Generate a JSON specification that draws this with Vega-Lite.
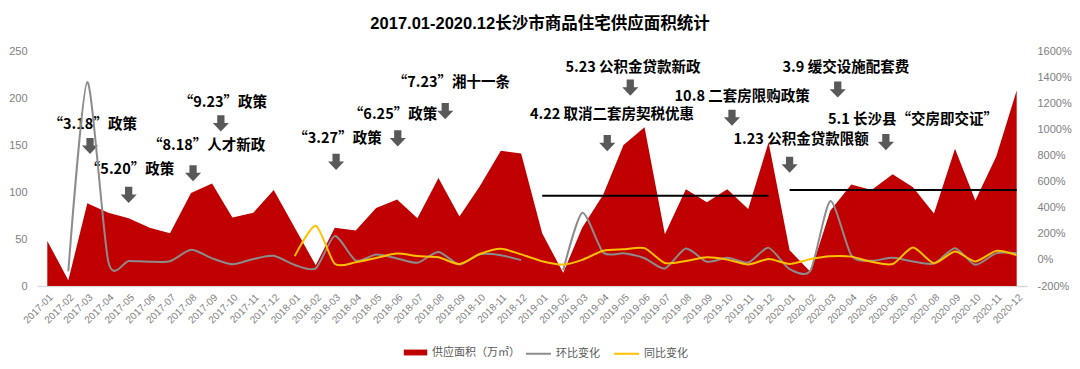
{
  "$schema": "https://vega.github.io/schema/vega-lite/v6.json",
  "width": 990,
  "height": 235,
  "autosize": {"type": "none"},
  "padding": {"left": 37, "top": 51, "right": 53, "bottom": 83},
  "background": "white",
  "title": {
    "text": "2017.01-2020.12长沙市商品住宅供应面积统计",
    "fontSize": 16.5,
    "fontWeight": "bold",
    "font": "Liberation Sans, Noto Sans CJK SC",
    "color": "#000000",
    "offset": 13,
    "dx": 8
  },
  "config": {
    "view": {"stroke": null},
    "axis": {"labelFont": "Liberation Sans", "labelColor": "#808080", "grid": false, "ticks": false},
    "legend": {"labelFont": "Noto Sans CJK SC", "labelFontSize": 11, "labelColor": "#595959", "padding": 0}
  },
  "datasets": {
    "main": [
      {"month": "2017-01-01", "area": 48, "mom": null, "yoy": null},
      {"month": "2017-02-01", "area": 6, "mom": -88, "yoy": null},
      {"month": "2017-03-01", "area": 88, "mom": 1363, "yoy": null},
      {"month": "2017-04-01", "area": 78, "mom": -15, "yoy": null},
      {"month": "2017-05-01", "area": 72, "mom": -8, "yoy": null},
      {"month": "2017-06-01", "area": 62, "mom": -14, "yoy": null},
      {"month": "2017-07-01", "area": 56, "mom": -10, "yoy": null},
      {"month": "2017-08-01", "area": 99, "mom": 77, "yoy": null},
      {"month": "2017-09-01", "area": 109, "mom": 12, "yoy": null},
      {"month": "2017-10-01", "area": 73, "mom": -33, "yoy": null},
      {"month": "2017-11-01", "area": 78, "mom": 7, "yoy": null},
      {"month": "2017-12-01", "area": 102, "mom": 31, "yoy": null},
      {"month": "2018-01-01", "area": 62, "mom": -39, "yoy": 29},
      {"month": "2018-02-01", "area": 22, "mom": -65, "yoy": 262},
      {"month": "2018-03-01", "area": 62, "mom": 182, "yoy": -30},
      {"month": "2018-04-01", "area": 59, "mom": -5, "yoy": -18},
      {"month": "2018-05-01", "area": 83, "mom": 41, "yoy": 15},
      {"month": "2018-06-01", "area": 92, "mom": 11, "yoy": 48},
      {"month": "2018-07-01", "area": 72, "mom": -22, "yoy": 29},
      {"month": "2018-08-01", "area": 115, "mom": 60, "yoy": 20},
      {"month": "2018-09-01", "area": 74, "mom": -36, "yoy": -32},
      {"month": "2018-10-01", "area": 106, "mom": 43, "yoy": 45},
      {"month": "2018-11-01", "area": 144, "mom": 36, "yoy": 85},
      {"month": "2018-12-01", "area": 141, "mom": -2, "yoy": 42},
      {"month": "2019-01-01", "area": 56, "mom": null, "yoy": -10},
      {"month": "2019-02-01", "area": 14, "mom": -80, "yoy": -36},
      {"month": "2019-03-01", "area": 62, "mom": 360, "yoy": 0},
      {"month": "2019-04-01", "area": 97, "mom": 56, "yoy": 70},
      {"month": "2019-05-01", "area": 150, "mom": 50, "yoy": 81},
      {"month": "2019-06-01", "area": 169, "mom": 13, "yoy": 90},
      {"month": "2019-07-01", "area": 55, "mom": -66, "yoy": -24},
      {"month": "2019-08-01", "area": 103, "mom": 87, "yoy": -8},
      {"month": "2019-09-01", "area": 89, "mom": -14, "yoy": 20},
      {"month": "2019-10-01", "area": 103, "mom": 16, "yoy": 2},
      {"month": "2019-11-01", "area": 82, "mom": -20, "yoy": -35},
      {"month": "2019-12-01", "area": 153, "mom": 92, "yoy": 6},
      {"month": "2020-01-01", "area": 38, "mom": -70, "yoy": -31},
      {"month": "2020-02-01", "area": 15, "mom": -80, "yoy": 6},
      {"month": "2020-03-01", "area": 80, "mom": 450, "yoy": 27},
      {"month": "2020-04-01", "area": 108, "mom": 35, "yoy": 25},
      {"month": "2020-05-01", "area": 102, "mom": -6, "yoy": -15},
      {"month": "2020-06-01", "area": 119, "mom": 17, "yoy": -32},
      {"month": "2020-07-01", "area": 105, "mom": -12, "yoy": 95},
      {"month": "2020-08-01", "area": 77, "mom": -28, "yoy": -25},
      {"month": "2020-09-01", "area": 146, "mom": 90, "yoy": 64},
      {"month": "2020-10-01", "area": 91, "mom": -38, "yoy": -12},
      {"month": "2020-11-01", "area": 138, "mom": 52, "yoy": 69},
      {"month": "2020-12-01", "area": 208, "mom": 51, "yoy": 37}
    ],
    "avg": [
      {"start": "2019-01-01", "end": "2019-12-01", "avg": 96},
      {"start": "2020-01-01", "end": "2020-12-01", "avg": 102}
    ],
    "ann": [
      {"label": "“3.18”政策", "date": "2017-03-09", "v": 171},
      {"label": "“5.20”政策", "date": "2017-05-03", "v": 123},
      {"label": "“9.23”政策", "date": "2017-09-17", "v": 195},
      {"label": "“8.18”人才新政", "date": "2017-08-24", "v": 149},
      {"label": "“3.27”政策", "date": "2018-03-05", "v": 156},
      {"label": "“6.25”政策", "date": "2018-05-26", "v": 182},
      {"label": "“7.23”湘十一条", "date": "2018-08-20", "v": 216},
      {"label": "4.22 取消二套房契税优惠", "date": "2019-04-14", "v": 182},
      {"label": "5.23 公积金贷款新政", "date": "2019-05-15", "v": 232},
      {"label": "10.8 二套房限购政策", "date": "2019-10-23", "v": 201},
      {"label": "1.23 公积金贷款限额", "date": "2020-01-18", "v": 155},
      {"label": "3.9 缓交设施配套费", "date": "2020-03-24", "v": 232},
      {"label": "5.1 长沙县“交房即交证”", "date": "2020-07-01", "v": 177}
    ],
    "arrows": [
      {"date": "2017-03-05", "v": 149},
      {"date": "2017-05-01", "v": 97},
      {"date": "2017-09-14", "v": 173},
      {"date": "2017-08-04", "v": 120},
      {"date": "2018-03-03", "v": 132},
      {"date": "2018-06-02", "v": 157},
      {"date": "2018-08-11", "v": 186},
      {"date": "2019-04-07", "v": 152},
      {"date": "2019-05-11", "v": 211},
      {"date": "2019-10-08", "v": 179},
      {"date": "2020-01-01", "v": 129},
      {"date": "2020-03-12", "v": 209},
      {"date": "2020-05-22", "v": 153}
    ]
  },
  "layer": [
    {
      "layer": [
        {
          "data": {"name": "main"},
          "mark": {"type": "area", "interpolate": "linear", "opacity": 1},
          "encoding": {
            "x": {
              "field": "month", "type": "temporal",
              "scale": {"type": "utc", "domain": [{"year": 2016, "month": 12, "date": 16, "hours": 19, "utc": true}, {"year": 2020, "month": 12, "date": 16, "hours": 5, "utc": true}]},
              "axis": {"title": null, "format": "%Y-%m", "tickCount": {"interval": "month", "step": 1}, "labelAngle": -45, "labelFontSize": 10, "labelOverlap": false, "labelPadding": 6, "domainColor": "#d9d9d9", "domainWidth": 1.5, "labelFlush": false}
            },
            "y": {
              "field": "area", "type": "quantitative",
              "scale": {"domain": [0, 250], "nice": false, "zero": true},
              "axis": {"title": null, "values": [0, 50, 100, 150, 200, 250], "labelFontSize": 11, "labelPadding": 10, "domain": false, "labelOverlap": false}
            },
            "fill": {
              "datum": "供应面积（万㎡）", "type": "nominal",
              "scale": {"domain": ["供应面积（万㎡）"], "range": ["#c00000"]},
              "legend": {"title": null, "orient": "none", "legendX": 366, "legendY": 289, "direction": "horizontal", "symbolType": "M-1,-0.25H1V0.25H-1Z", "symbolSize": 550, "labelOffset": 4}
            }
          }
        },
        {
          "data": {"name": "avg"},
          "mark": {"type": "rule", "color": "#000000", "strokeWidth": 2},
          "encoding": {
            "x": {"field": "start", "type": "temporal"},
            "x2": {"field": "end"},
            "y": {"field": "avg", "type": "quantitative"}
          }
        },
        {
          "data": {"name": "arrows"},
          "mark": {"type": "point", "shape": "M-0.45,-1H0.45V-0.05H1L0,1L-1,-0.05H-0.45Z", "filled": true, "color": "#595959", "opacity": 1, "size": 260, "strokeWidth": 0},
          "encoding": {
            "x": {"field": "date", "type": "temporal"},
            "y": {"field": "v", "type": "quantitative"}
          }
        },
        {
          "data": {"name": "ann"},
          "mark": {"type": "text", "font": "Noto Sans CJK SC", "fontSize": 14.5, "fontWeight": "bold", "color": "#000000", "align": "center", "baseline": "middle"},
          "encoding": {
            "x": {"field": "date", "type": "temporal"},
            "y": {"field": "v", "type": "quantitative"},
            "text": {"field": "label"}
          }
        }
      ]
    },
    {
      "data": {"name": "main"},
      "transform": [{"fold": ["mom", "yoy"], "as": ["key", "value"]}],
      "mark": {"type": "line", "interpolate": "cardinal", "tension": 0.3, "strokeWidth": 2, "invalid": "break-paths-show-domains"},
      "encoding": {
        "x": {"field": "month", "type": "temporal"},
        "y": {
          "field": "value", "type": "quantitative",
          "scale": {"domain": [-200, 1600], "nice": false, "zero": false},
          "axis": {"title": null, "orient": "right", "values": [-200, 0, 200, 400, 600, 800, 1000, 1200, 1400, 1600], "labelExpr": "datum.value + '%'", "labelFontSize": 11, "labelPadding": 10, "domain": false, "labelOverlap": false, "labelColor": "#808080"}
        },
        "stroke": {
          "field": "key", "type": "nominal",
          "scale": {"domain": ["mom", "yoy"], "range": ["#8c8c8c", "#ffc000"]},
          "legend": {"title": null, "orient": "none", "legendX": 488, "legendY": 289, "direction": "horizontal", "symbolType": "stroke", "symbolSize": 625, "symbolStrokeWidth": 2, "labelOffset": 4, "columnPadding": 10, "labelExpr": "datum.label == 'mom' ? '环比变化' : '同比变化'"}
        }
      }
    }
  ],
  "resolve": {"scale": {"y": "independent"}}
}
